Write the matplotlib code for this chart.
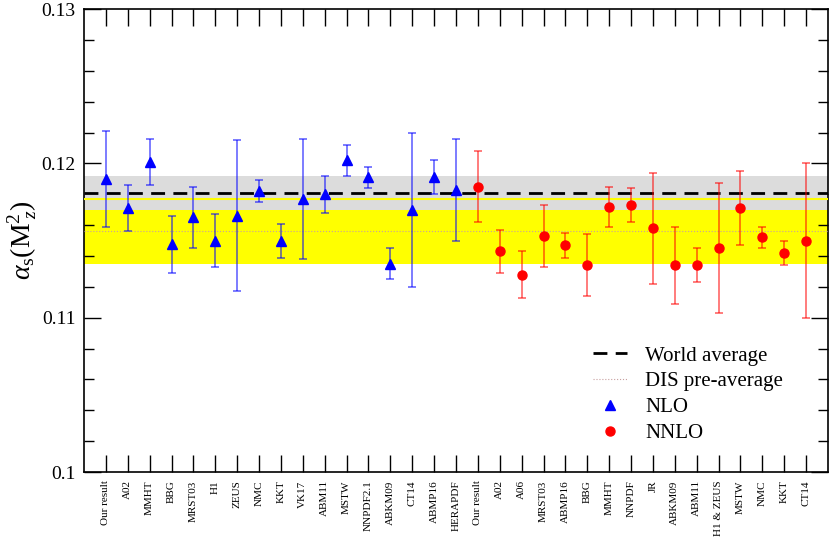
import numpy as np
import matplotlib
matplotlib.use("Agg")
import matplotlib.pyplot as plt
from matplotlib.ticker import MultipleLocator

plt.rcParams["font.family"] = ["Liberation Serif", "DejaVu Serif"]
plt.rcParams["mathtext.fontset"] = "custom"
plt.rcParams["mathtext.rm"] = "Liberation Serif"
plt.rcParams["mathtext.it"] = "Liberation Serif:italic"

# ---------- data ----------
nlo_labels = ["Our result", "A02", "MMHT", "BBG", "MRST03", "H1", "ZEUS", "NMC",
              "KKT", "VK17", "ABM11", "MSTW", "NNPDF2.1", "ABKM09", "CT14",
              "ABMP16", "HERAPDF"]
nlo_val = [0.1190, 0.1171, 0.1201, 0.1148, 0.1165, 0.1150, 0.1166, 0.1182,
           0.1150, 0.1177, 0.1180, 0.1202, 0.1191, 0.1135, 0.1170, 0.1191, 0.1183]
nlo_up = [0.1221, 0.1186, 0.1216, 0.1166, 0.1185, 0.1167, 0.1215, 0.1189,
          0.1161, 0.1216, 0.1192, 0.1212, 0.1198, 0.1145, 0.1220, 0.1202, 0.1216]
nlo_lo = [0.1159, 0.1156, 0.1186, 0.1129, 0.1145, 0.1133, 0.1117, 0.1175,
          0.1139, 0.1138, 0.1168, 0.1192, 0.1184, 0.1125, 0.1120, 0.1180, 0.1150]

nnlo_labels = ["Our result", "A02", "A06", "MRST03", "ABMP16", "BBG", "MMHT",
               "NNPDF", "JR", "ABKM09", "ABM11", "H1 & ZEUS", "MSTW", "NMC",
               "KKT", "CT14"]
nnlo_val = [0.1185, 0.1143, 0.1128, 0.1153, 0.1147, 0.1134, 0.1172, 0.1173,
            0.1158, 0.1134, 0.1134, 0.1145, 0.1171, 0.1152, 0.1142, 0.1150]
nnlo_up = [0.1208, 0.1157, 0.1143, 0.1173, 0.1155, 0.1154, 0.1185, 0.1184,
           0.1194, 0.1159, 0.1145, 0.1187, 0.1195, 0.1159, 0.1150, 0.1200]
nnlo_lo = [0.1162, 0.1129, 0.1113, 0.1133, 0.1139, 0.1114, 0.1159, 0.1162,
           0.1122, 0.1109, 0.1123, 0.1103, 0.1147, 0.1145, 0.1134, 0.1100]

world_avg, world_err = 0.1181, 0.0011
dis_avg, dis_lo, dis_hi = 0.1156, 0.1135, 0.1177

labels = nlo_labels + nnlo_labels
x_nlo = np.arange(len(nlo_labels))
x_nnlo = np.arange(len(nnlo_labels)) + len(nlo_labels)

# ---------- figure ----------
fig = plt.figure(figsize=(8.3, 5.37), dpi=100)
ax = fig.add_axes([0.1012, 0.121, 0.8964, 0.862])
ax.set_xlim(-1, len(labels))
ax.set_ylim(0.10, 0.13)

# bands
ax.axhspan(dis_lo, dis_hi, color="#ffff00", lw=0, zorder=1)
ax.axhspan(world_avg - world_err, world_avg + world_err, color="#dcdcdc", lw=0, zorder=2)
ax.axhline(dis_hi, color="#ffff00", lw=1.5, zorder=3)
ax.axhline(world_avg, color="black", ls=(0, (5, 3)), lw=2, zorder=3, label="World average")
ax.axhline(dis_avg, color="#c8a0a0", ls=":", lw=0.8, zorder=3, label="DIS pre-average")

# points
nlo_v = np.array(nlo_val)
ax.errorbar(x_nlo, nlo_v, yerr=[nlo_v - np.array(nlo_lo), np.array(nlo_up) - nlo_v],
            fmt="none", ecolor=(0, 0, 1, 0.6), elinewidth=1.2, capsize=3, capthick=1.2, zorder=4)
ax.plot(x_nlo, nlo_v, "^", color="blue", ms=7, ls="none", zorder=5, label="NLO")

nnlo_v = np.array(nnlo_val)
ax.errorbar(x_nnlo, nnlo_v, yerr=[nnlo_v - np.array(nnlo_lo), np.array(nnlo_up) - nnlo_v],
            fmt="none", ecolor=(1, 0, 0, 0.6), elinewidth=1.2, capsize=3, capthick=1.2, zorder=4)
ax.plot(x_nnlo, nnlo_v, "o", color="red", ms=6.5, ls="none", zorder=5, label="NNLO")

# axes styling
ax.set_xticks(np.arange(len(labels)))
ax.set_xticklabels(labels, rotation=90, fontsize=8)
ax.yaxis.set_major_locator(MultipleLocator(0.01))
ax.yaxis.set_minor_locator(MultipleLocator(0.002))
ax.set_yticks([0.10, 0.11, 0.12, 0.13])
ax.set_yticklabels(["0.1", "0.11", "0.12", "0.13"], fontsize=14)
ax.tick_params(axis="both", which="major", direction="in", top=True, right=True, length=12, width=1)
ax.tick_params(axis="y", which="minor", direction="in", right=True, length=7, width=1)
ax.tick_params(axis="x", pad=6)
ax.tick_params(axis="y", pad=6)
for s in ax.spines.values():
    s.set_linewidth(1.2)

ax.set_ylabel(r"$\alpha_{\rm s}({\rm M}^2_{\ z})$", fontsize=20, labelpad=2)

leg = ax.legend(loc="lower right", bbox_to_anchor=(0.965, 0.022), frameon=False,
                fontsize=15, handlelength=1.6, labelspacing=0.3, handletextpad=0.9)

fig.savefig("out.png", dpi=100)
